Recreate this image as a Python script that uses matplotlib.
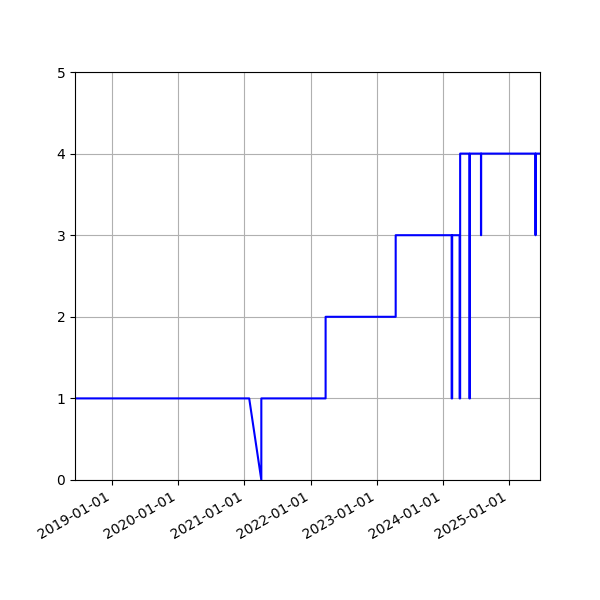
import numpy as np
import pandas as pd
import matplotlib
matplotlib.use("Agg")
import matplotlib.pyplot as plt
import matplotlib.dates as mdates

# step data: each change is two points on the same date
dates = ["2018-06-10", "2021-01-27", "2021-04-04", "2021-04-04",
         "2022-03-25", "2022-03-25", "2023-04-16", "2023-04-16",
         "2024-02-19", "2024-02-19", "2024-02-22", "2024-02-22",
         "2024-04-03", "2024-04-03", "2024-04-06", "2024-04-06",
         "2024-05-27", "2024-05-27", "2024-05-30", "2024-05-30",
         "2024-07-30", "2024-07-30", "2024-07-31", "2024-07-31",
         "2025-05-27", "2025-05-27", "2025-05-28", "2025-05-28",
         "2025-06-21"]
values = [1, 1, 0, 1,
          1, 2, 2, 3,
          3, 1, 1, 3,
          3, 1, 1, 4,
          4, 1, 1, 4,
          4, 3, 3, 4,
          4, 3, 3, 4,
          4]

x = pd.to_datetime(dates)

fig, ax = plt.subplots(figsize=(6, 6), dpi=100)
ax.plot(x, values, color='b')
ax.set_ylim(0, 5)
ax.margins(x=0)
ax.xaxis.set_major_locator(mdates.YearLocator())
ax.xaxis.set_major_formatter(mdates.DateFormatter('%Y-%m-%d'))
ax.grid(True)
fig.autofmt_xdate()
fig.savefig("out.png")
